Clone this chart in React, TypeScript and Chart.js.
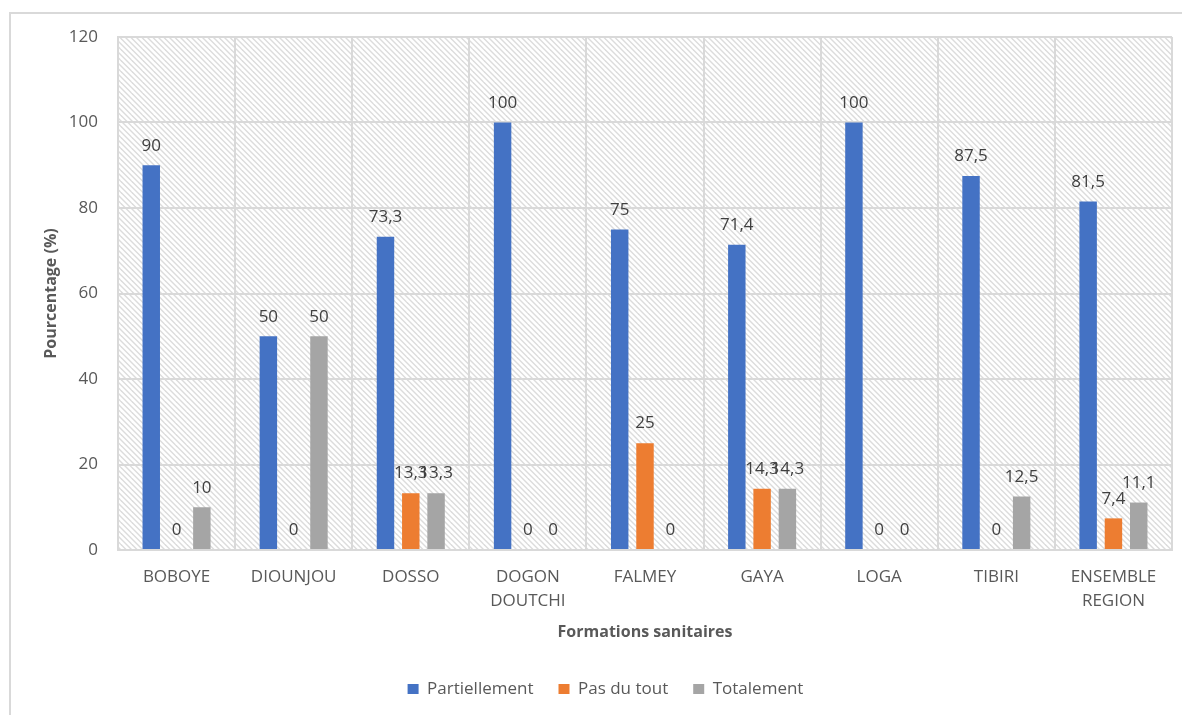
import React, { useEffect, useRef } from "react";
import { Chart, registerables } from "chart.js";

Chart.register(...registerables);

// Health facilities (multi-line labels are arrays)
const categories: (string | string[])[] = [
  "BOBOYE",
  "DIOUNJOU",
  "DOSSO",
  ["DOGON", "DOUTCHI"],
  "FALMEY",
  "GAYA",
  "LOGA",
  "TIBIRI",
  ["ENSEMBLE", "REGION"],
];

const partiellement = [90, 50, 73.3, 100, 75, 71.4, 100, 87.5, 81.5];
const pasDuTout = [0, 0, 13.3, 0, 25, 14.3, 0, 0, 7.4];
const totalement = [10, 50, 13.3, 0, 0, 14.3, 0, 12.5, 11.1];

const seriesNames = ["Partiellement", "Pas du tout", "Totalement"];
const seriesColors = ["#4472C4", "#ED7D31", "#A5A5A5"];

const yMin = 0;
const yMax = 120;
const yStep = 20;

const FONT = "'Open Sans', 'Noto Sans', sans-serif";
const TEXT = "#595959";
const GRID = "#d9d9d9";

function makeHatch(): CanvasPattern | string {
  const size = 11;
  const c = document.createElement("canvas");
  c.width = size;
  c.height = size;
  const g = c.getContext("2d");
  if (!g) return "#ffffff";
  g.fillStyle = "#ffffff";
  g.fillRect(0, 0, size, size);
  g.strokeStyle = "#dcdcdc";
  g.lineWidth = 1.4;
  for (let k = -size * 2; k <= size * 2; k += size / 2) {
    g.beginPath();
    g.moveTo(k - 2, -2);
    g.lineTo(k + size + 2, size + 2);
    g.stroke();
  }
  return g.createPattern(c, "repeat") || "#ffffff";
}

const formatValue = (v: number) => String(v).replace(".", ",");

export default function App() {
  const canvasRef = useRef<HTMLCanvasElement | null>(null);

  useEffect(() => {
    const canvas = canvasRef.current;
    if (!canvas) return;
    const hatch = makeHatch();

    const backgroundPlugin = {
      id: "panelBackground",
      beforeDraw(chart: any) {
        const { ctx, width, height, chartArea } = chart;
        ctx.save();
        ctx.fillStyle = "#ffffff";
        ctx.fillRect(0, 0, width, height);
        // outer frame
        ctx.strokeStyle = GRID;
        ctx.lineWidth = 2;
        ctx.beginPath();
        ctx.moveTo(10, height + 2);
        ctx.lineTo(10, 13);
        ctx.lineTo(width + 2, 13);
        ctx.stroke();
        // hatched plot area
        ctx.fillStyle = hatch;
        ctx.fillRect(
          chartArea.left,
          chartArea.top,
          chartArea.right - chartArea.left,
          chartArea.bottom - chartArea.top
        );
        ctx.restore();
      },
    };

    const valueLabelPlugin = {
      id: "valueLabels",
      afterDatasetsDraw(chart: any) {
        const { ctx } = chart;
        ctx.save();
        ctx.font = `17px ${FONT}`;
        ctx.fillStyle = "#404040";
        ctx.textAlign = "center";
        ctx.textBaseline = "middle";
        chart.data.datasets.forEach((ds: any, i: number) => {
          const meta = chart.getDatasetMeta(i);
          meta.data.forEach((bar: any, j: number) => {
            const v = ds.data[j] as number;
            ctx.fillText(formatValue(v), bar.x, bar.y - 19.5);
          });
        });
        ctx.restore();
      },
    };

    const legendShiftPlugin = {
      id: "legendShift",
      afterLayout(chart: any) {
        const lg = chart.legend;
        if (lg) {
          lg.left += 14.5;
          lg.right += 14.5;
        }
      },
    };

    const chart = new Chart(canvas, {
      type: "bar",
      data: {
        labels: categories,
        datasets: [partiellement, pasDuTout, totalement].map((d, i) => ({
          label: seriesNames[i],
          data: d,
          backgroundColor: seriesColors[i],
          borderWidth: 0,
          categoryPercentage: 0.648,
          barPercentage: 0.69,
        })),
      },
      options: {
        animation: false,
        responsive: true,
        maintainAspectRatio: false,
        layout: { padding: { left: 10, right: 10, top: 37, bottom: 7.5 } },
        plugins: {
          tooltip: { enabled: false },
          legend: {
            position: "bottom",
            labels: {
              boxWidth: 11,
              boxHeight: 10,
              padding: 25,
              color: TEXT,
              font: { family: FONT, size: 17 },
            },
          },
        },
        scales: {
          x: {
            grid: { color: GRID, lineWidth: 2, drawTicks: false, offset: true },
            border: { color: GRID, width: 2 },
            ticks: {
              color: TEXT,
              padding: 15,
              maxRotation: 0,
              autoSkip: false,
              font: { family: FONT, size: 17, lineHeight: 1.41 },
            },
            title: {
              display: true,
              text: "Formations sanitaires",
              color: TEXT,
              font: { family: FONT, size: 16, weight: "bold", lineHeight: 1.2 },
              padding: { top: 0, bottom: 13 },
            },
            afterFit(scale: any) {
              scale.height = 105.5;
            },
          },
          y: {
            min: yMin,
            max: yMax,
            grid: { color: GRID, lineWidth: 2, drawTicks: false },
            border: { color: GRID, width: 2 },
            ticks: {
              stepSize: yStep,
              color: TEXT,
              padding: 20,
              font: { family: FONT, size: 17 },
            },
            title: {
              display: true,
              text: "Pourcentage (%)",
              color: TEXT,
              font: { family: FONT, size: 16, weight: "bold", lineHeight: 1.2 },
              padding: { top: 32, bottom: 0 },
            },
            afterFit(scale: any) {
              scale.width = 108;
            },
          },
        },
      },
      plugins: [backgroundPlugin, valueLabelPlugin, legendShiftPlugin],
    });

    return () => chart.destroy();
  }, []);

  return (
    <div style={{ position: "absolute", left: 0, top: 0, width: 1182, height: 715 }}>
      <canvas ref={canvasRef} />
    </div>
  );
}
